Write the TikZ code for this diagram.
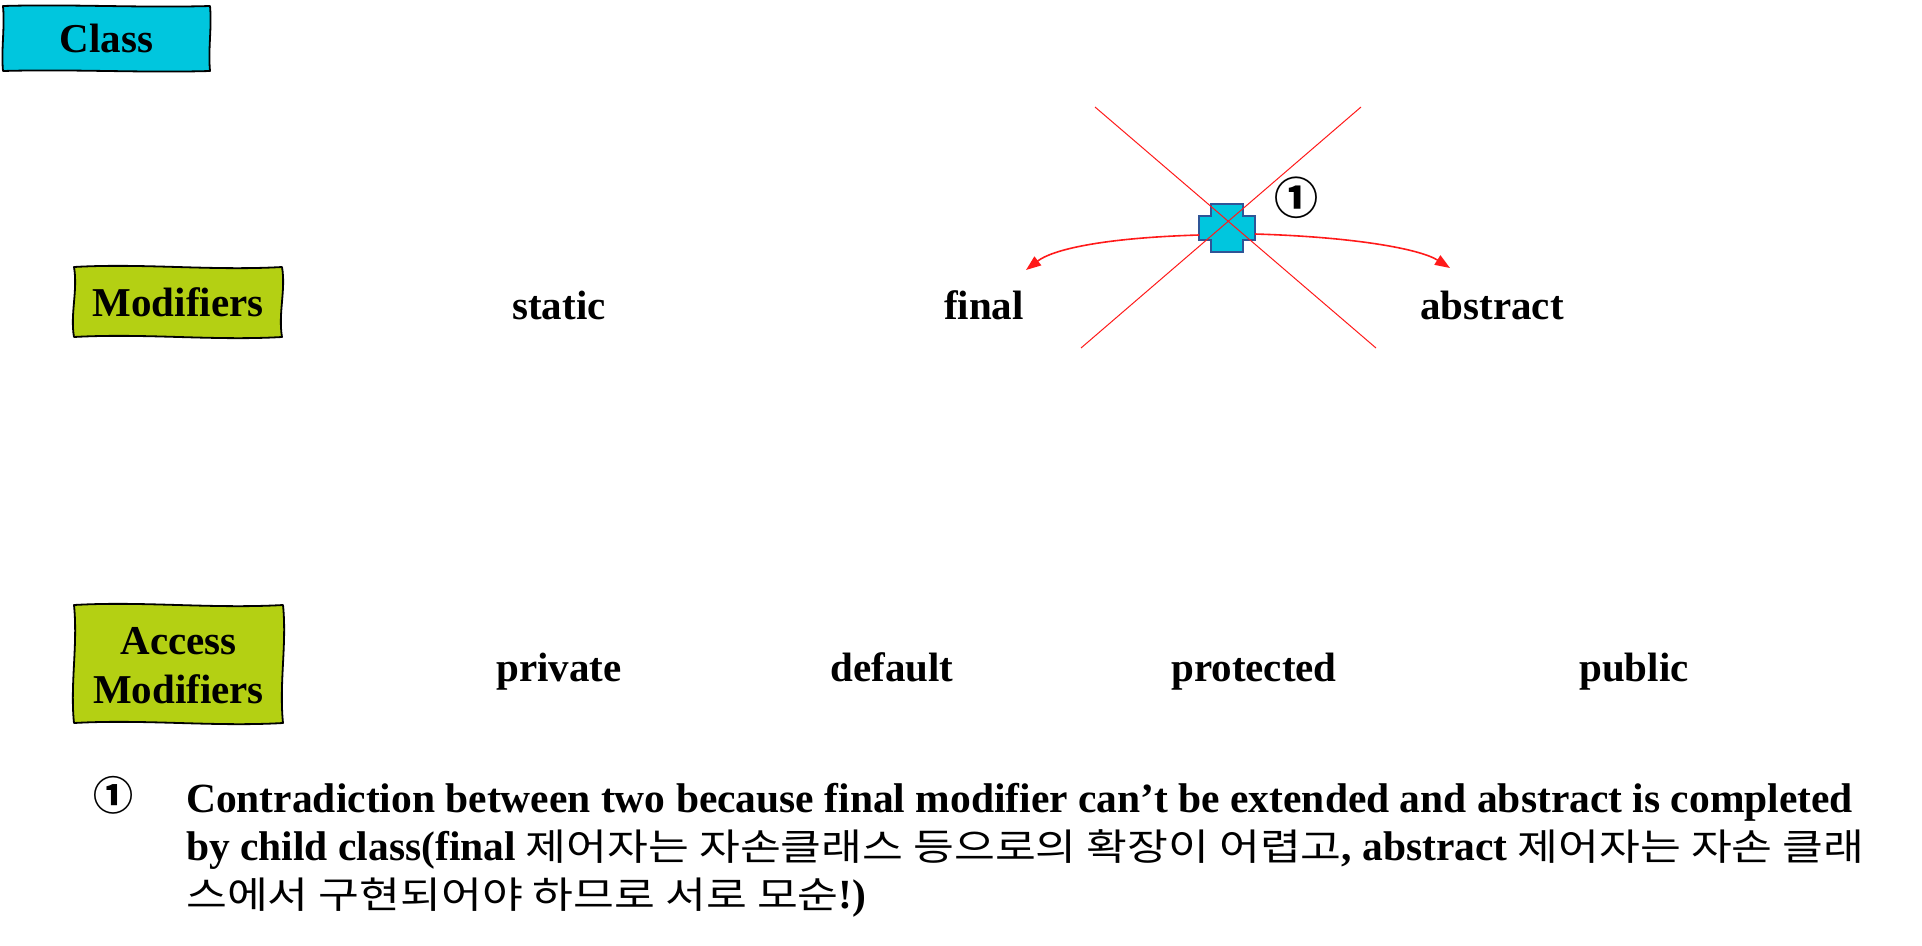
\documentclass[tikz,border=0pt]{standalone}
\usepackage{fontspec}
\setmainfont{Liberation Serif}
\newfontfamily\kr[FakeStretch=1.2]{Noto Sans CJK KR}
\newfontfamily\krsym{Noto Sans CJK KR}
\usetikzlibrary{calc,arrows.meta}
\definecolor{clscyan}{HTML}{00C6DE}
\definecolor{limegreen}{HTML}{B4D013}
\definecolor{crossline}{HTML}{2F5597}
\definecolor{redline}{HTML}{FF1A1A}
\tikzset{
  sketchline/.style={draw=black, line width=1.8pt, line join=round},
  boxtext/.style={inner sep=0pt, align=center, font=\bfseries\fontsize{41}{49}\selectfont},
  lbl/.style={anchor=base, inner sep=0pt, font=\bfseries\fontsize{41}{43}\selectfont},
  fnline/.style={anchor=base west, inner sep=0pt, font=\bfseries\fontsize{41.5}{48}\selectfont},
  xline/.style={draw=redline, line width=1pt},
  carrow/.style={draw=redline, line width=1.6pt, -{Triangle[length=15pt,width=11pt]}},
}
% wavy hand-drawn rectangle: #1 fill, (#2,#3) top-left, (#4,#5) bottom-right, #6 amplitude
\newcommand{\sketchrect}[6]{%
  \draw[sketchline, fill=#1]
    (#2,#3)
    .. controls ($(#2,#3)!0.33!(#4,#3)+(0,-#6)$) and ($(#2,#3)!0.66!(#4,#3)+(0,#6)$) .. (#4,#3)
    .. controls ($(#4,#3)!0.33!(#4,#5)+(#6,0)$) and ($(#4,#3)!0.66!(#4,#5)+(-#6,0)$) .. (#4,#5)
    .. controls ($(#4,#5)!0.33!(#2,#5)+(0,#6)$) and ($(#4,#5)!0.66!(#2,#5)+(0,-#6)$) .. (#2,#5)
    .. controls ($(#2,#5)!0.33!(#2,#3)+(-#6,0)$) and ($(#2,#5)!0.66!(#2,#3)+(#6,0)$) .. (#2,#3)
    -- cycle;}
\begin{document}
\begin{tikzpicture}[x=1pt,y=-1pt]
\useasboundingbox (0,0) rectangle (1922,945);

% boxes
\sketchrect{clscyan}{3}{6}{210}{71}{2}
\node[boxtext] (cls) at (106.5,38.5) {Class};
\sketchrect{limegreen}{74}{267}{282}{337}{4}
\node[boxtext] (mods) at (178,302) {Modifiers};
\sketchrect{limegreen}{74}{605}{283}{723}{4}
\node[boxtext] (amods) at (178.5,666) {Access\\Modifiers};

% modifier labels
\node[lbl] (static) at (559,319) {static};
\node[lbl] (final) at (984,319) {final};
\node[lbl] (abstract) at (1492,319) {abstract};

% access labels
\node[lbl] (private) at (559,681) {private};
\node[lbl] (default) at (892,681) {default};
\node[lbl] (protected) at (1254,681) {protected};
\node[lbl] (public) at (1634,681) {public};

% cross shape
\draw[fill=clscyan, draw=crossline, line width=1.6pt]
  (1211,204) -- (1243,204) -- (1243,216) -- (1255,216) -- (1255,240) -- (1243,240)
  -- (1243,252) -- (1211,252) -- (1211,240) -- (1199,240) -- (1199,216) -- (1211,216) -- cycle;
\coordinate (crossL) at (1199,235);
\coordinate (crossR) at (1255,234);
\coordinate (tipL) at (1026,270);
\coordinate (tipR) at (1450,268);

% red X lines
\coordinate (xa1) at (1095,107);
\coordinate (xa2) at (1376,348);
\coordinate (xb1) at (1361,107);
\coordinate (xb2) at (1081,348);
\draw[xline] (xa1) -- (xa2);
\draw[xline] (xb1) -- (xb2);

% curved arrows
\draw[carrow] (crossL) .. controls (1100,238) and (1052,250) .. (tipL);
\draw[carrow] (crossR) .. controls (1355,237) and (1420,249) .. (tipR);

% circled number
\node[inner sep=0pt, font=\krsym\bfseries\fontsize{44}{44}\selectfont] (mark1) at (1296,198) {①};

% footnote
\node[inner sep=0pt, font=\krsym\bfseries\fontsize{40}{40}\selectfont] (fnmark) at (113,795) {①};
\node[fnline] (fn1) at (186,812) {Contradiction between two because final modifier can’t be extended and abstract is completed};
\node[fnline] (fn2) at (186,860) {by child class(final{\kr\mdseries\fontsize{37}{40}\selectfont{} 제어자는 자손클래스 등으로의 확장이 어렵고}, abstract{\kr\mdseries\fontsize{37}{40}\selectfont{} 제어자는 자손 클래}};
\node[fnline] (fn3) at (186,908) {{\kr\mdseries\fontsize{37}{40}\selectfont 스에서 구현되어야 하므로 서로 모순}!)};
\end{tikzpicture}
\end{document}
